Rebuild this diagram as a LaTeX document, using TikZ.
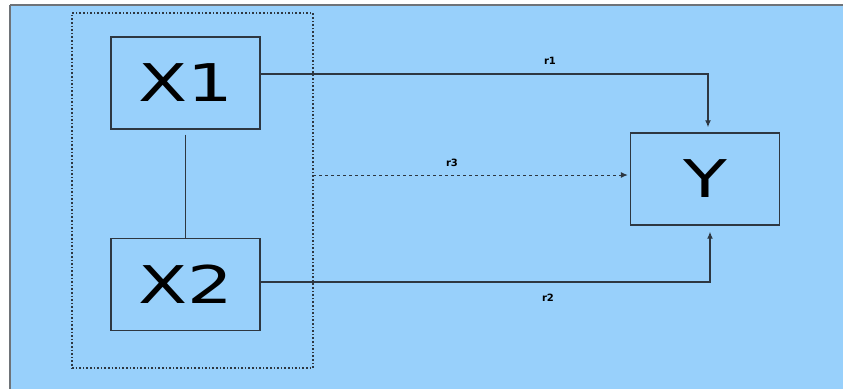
\documentclass[tikz,border=0pt]{standalone}
\usepackage{fontspec}
\setmainfont{DejaVu Sans}
\usetikzlibrary{arrows.meta}
\definecolor{panelblue}{RGB}{152,208,251}
\definecolor{inkgray}{RGB}{45,55,65}
\definecolor{framegray}{RGB}{110,115,120}
\tikzset{
  varbox/.style={draw=inkgray, line width=1.4pt, minimum width=149pt, minimum height=92pt, inner sep=0pt},
  groupbox/.style={draw=inkgray, line width=1.6pt, dotted, minimum width=241pt, minimum height=355pt, inner sep=0pt},
  link/.style={draw=inkgray, line width=1.3pt},
  flow/.style={link, -{Latex[length=7pt,width=6pt]}},
  tag/.style={font=\bfseries\fontsize{10}{11}\selectfont, text=black, inner sep=1pt},
  bigtext/.style={font=\fontsize{52}{54}\selectfont, text=black}
}
\newcommand{\widetext}[1]{\scalebox{1.38}[1]{#1}}
\begin{document}
\begin{tikzpicture}[x=1pt,y=-1pt]
  \useasboundingbox (0,0) rectangle (843,389);
  % panel background and its frame
  \fill[panelblue] (10,5) rectangle (843,389);
  \draw[framegray, line width=2pt] (10,5) -- (843,5);
  \draw[framegray, line width=1.5pt] (10,5) -- (10,389);

  % grouping frame around the two inputs
  \node[groupbox] (grp) at (192.5,190.5) {};

  % variables
  \node[varbox, bigtext] (X1) at (185.5,83) {\widetext{X1}};
  \node[varbox, bigtext] (X2) at (185.5,284.5) {\widetext{X2}};
  \node[varbox, bigtext] (Y) at (705,179) {\widetext{Y}};

  % turning points of the connectors
  \coordinate (r1c) at (708,74);
  \coordinate (r2c) at (710,282);
  \coordinate (r3s) at (313,175);

  % connectors
  \draw[link, shorten <=5pt] (X1.south) -- (X2.north);
  \draw[flow, shorten >=5pt] (X1.east |- r1c) -- (r1c) -- (r1c |- Y.north);
  \draw[flow, shorten >=6pt] (X2.east |- r2c) -- (r2c) -- (r2c |- Y.south);
  \draw[flow, dashed, line width=1pt, shorten >=2pt] (r3s) -- (Y.west |- r3s);

  % labels
  \node[tag] (l1) at (550,61) {r1};
  \node[tag] (l3) at (452,163) {r3};
  \node[tag] (l2) at (548,298) {r2};
\end{tikzpicture}
\end{document}
